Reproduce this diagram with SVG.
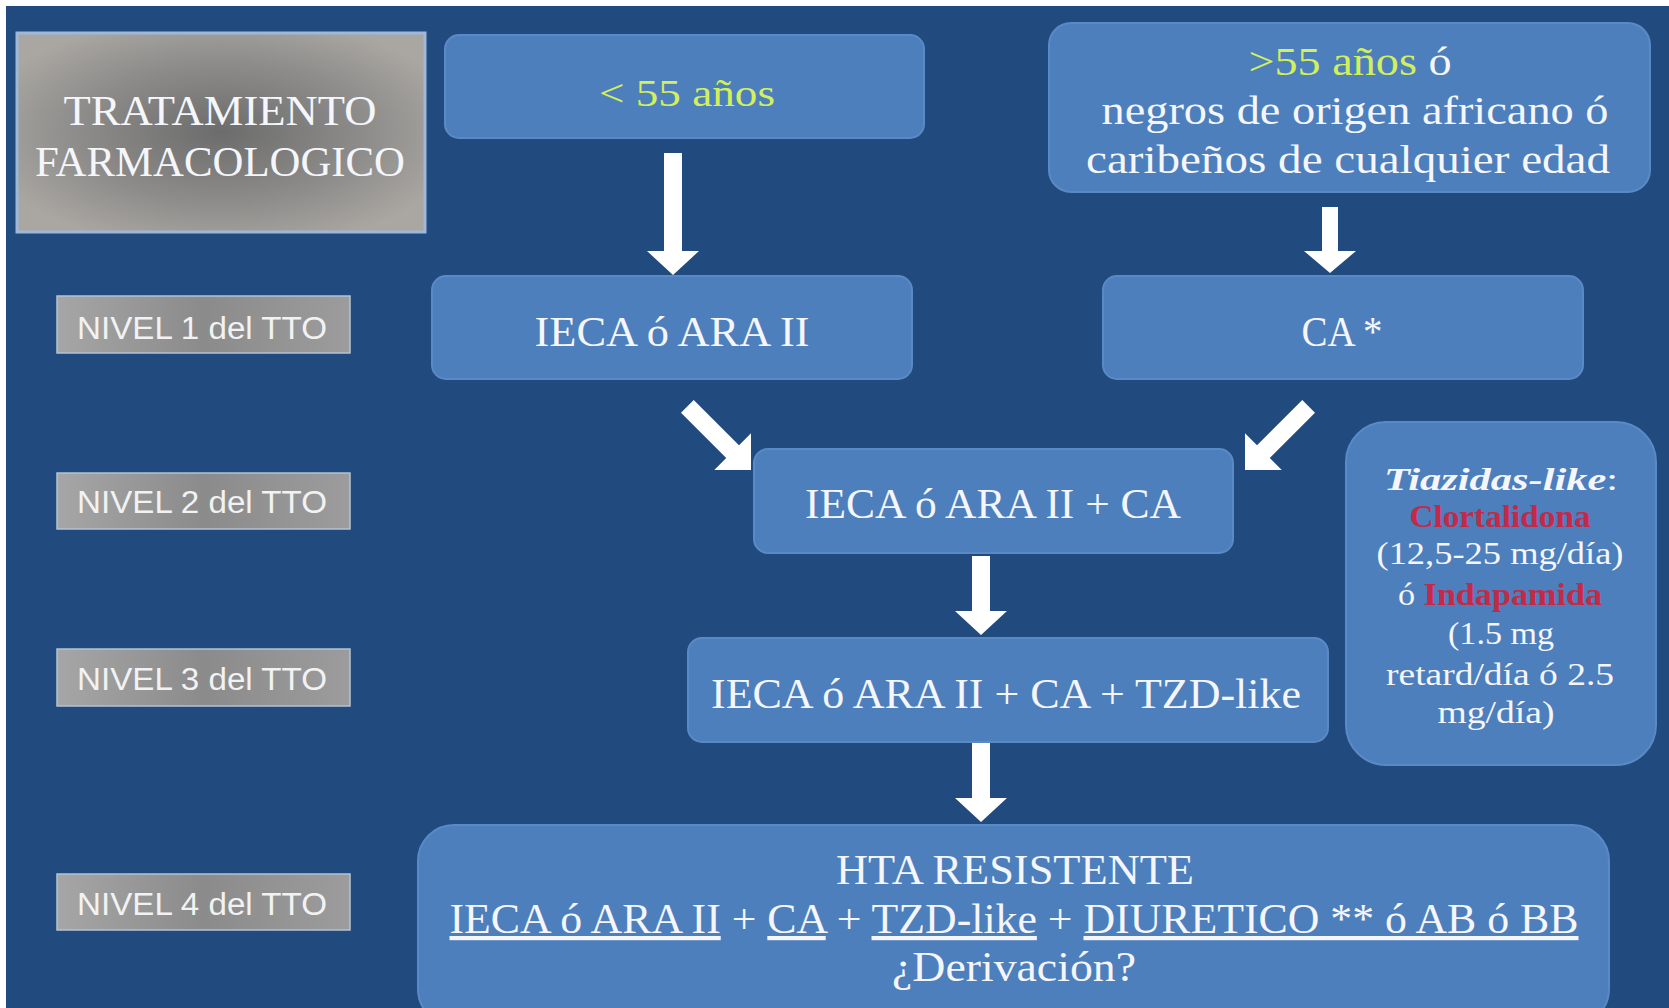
<svg xmlns="http://www.w3.org/2000/svg" width="1669" height="1008" viewBox="0 0 1669 1008">
  <defs>
    <radialGradient id="titleGrad" cx="0.5" cy="0.5" r="0.6">
      <stop offset="0" stop-color="#6c6c6c"/>
      <stop offset="0.6" stop-color="#8e8d8b"/>
      <stop offset="1" stop-color="#aaa7a2"/>
    </radialGradient>
    <linearGradient id="levelGrad" x1="0" y1="0" x2="1" y2="0">
      <stop offset="0" stop-color="#a6a6a6"/>
      <stop offset="0.5" stop-color="#8b8b8b"/>
      <stop offset="1" stop-color="#9c9c9c"/>
    </linearGradient>
    <style>
      .serif { font-family: "Liberation Serif", "Times New Roman", serif; fill: #f4f6fb; text-anchor: middle; }
      .sans { font-family: "Liberation Sans", Arial, sans-serif; fill: #f2f2f2; text-anchor: middle; font-size: 31px; }
      .box { fill: #4e7fbd; stroke: #5a8ac6; stroke-width: 2; }
      .level { fill: url(#levelGrad); stroke: #b4c2d4; stroke-width: 1.5; }
      .arrow { fill: #ffffff; }
      .age { fill: #d2f05c; }
      .drug { fill: #c42a48; font-weight: bold; }
      .ul { text-decoration: underline; }
    </style>
  </defs>

  <!-- page edge and slide background -->
  <rect x="0" y="0" width="1669" height="1008" fill="#ffffff"/>
  <rect x="6" y="6" width="1663" height="1002" fill="#214a7e"/>

  <!-- title block -->
  <g id="title">
    <rect x="17" y="33" width="408" height="199" fill="url(#titleGrad)" stroke="#9fb8d8" stroke-width="3"/>
    <text class="serif" x="220" y="125" font-size="42" textLength="313" lengthAdjust="spacingAndGlyphs">TRATAMIENTO</text>
    <text class="serif" x="220" y="176" font-size="42" textLength="370" lengthAdjust="spacingAndGlyphs">FARMACOLOGICO</text>
  </g>

  <!-- level labels -->
  <g id="nivel1">
    <rect class="level" x="57" y="296" width="293" height="57"/>
    <text class="sans" x="202" y="339" textLength="250" lengthAdjust="spacingAndGlyphs">NIVEL 1 del TTO</text>
  </g>
  <g id="nivel2">
    <rect class="level" x="57" y="473" width="293" height="56"/>
    <text class="sans" x="202" y="513" textLength="250" lengthAdjust="spacingAndGlyphs">NIVEL 2 del TTO</text>
  </g>
  <g id="nivel3">
    <rect class="level" x="57" y="649" width="293" height="57"/>
    <text class="sans" x="202" y="690" textLength="250" lengthAdjust="spacingAndGlyphs">NIVEL 3 del TTO</text>
  </g>
  <g id="nivel4">
    <rect class="level" x="57" y="874" width="293" height="56"/>
    <text class="sans" x="202" y="915" textLength="250" lengthAdjust="spacingAndGlyphs">NIVEL 4 del TTO</text>
  </g>

  <!-- entry groups -->
  <g id="menor55">
    <rect class="box" x="445" y="35" width="479" height="103" rx="14"/>
    <text class="serif age" x="687" y="106" font-size="38" textLength="176" lengthAdjust="spacingAndGlyphs">&lt; 55 años</text>
  </g>
  <g id="mayor55">
    <rect class="box" x="1049" y="23" width="601" height="169" rx="22"/>
    <text class="serif" x="1350" y="75" font-size="40" textLength="203" lengthAdjust="spacingAndGlyphs"><tspan class="age">&gt;55 años</tspan> ó</text>
    <text class="serif" x="1355" y="124" font-size="40" textLength="507" lengthAdjust="spacingAndGlyphs">negros de origen africano ó</text>
    <text class="serif" x="1348" y="173" font-size="40" textLength="524" lengthAdjust="spacingAndGlyphs">caribeños de cualquier edad</text>
  </g>

  <!-- level 1 -->
  <g id="ieca">
    <rect class="box" x="432" y="276" width="480" height="103" rx="14"/>
    <text class="serif" x="672" y="346" font-size="42" textLength="275" lengthAdjust="spacingAndGlyphs">IECA ó ARA II</text>
  </g>
  <g id="ca">
    <rect class="box" x="1103" y="276" width="480" height="103" rx="14"/>
    <text class="serif" x="1342" y="346" font-size="42" textLength="81" lengthAdjust="spacingAndGlyphs">CA *</text>
  </g>

  <!-- level 2 -->
  <g id="ieca-ca">
    <rect class="box" x="754" y="449" width="479" height="104" rx="14"/>
    <text class="serif" x="993" y="518" font-size="42" textLength="376" lengthAdjust="spacingAndGlyphs">IECA ó ARA II + CA</text>
  </g>

  <!-- level 3 -->
  <g id="ieca-ca-tzd">
    <rect class="box" x="688" y="638" width="640" height="104" rx="14"/>
    <text class="serif" x="1006" y="708" font-size="42" textLength="590" lengthAdjust="spacingAndGlyphs">IECA ó ARA II + CA + TZD-like</text>
  </g>

  <!-- thiazide-like note -->
  <g id="tiazidas">
    <rect class="box" x="1346" y="422" width="310" height="343" rx="40"/>
    <text class="serif" x="1501" y="490" font-size="32" textLength="234" lengthAdjust="spacingAndGlyphs"><tspan font-weight="bold" font-style="italic">Tiazidas-like</tspan>:</text>
    <text class="serif drug" x="1500" y="527" font-size="32" textLength="181" lengthAdjust="spacingAndGlyphs">Clortalidona</text>
    <text class="serif" x="1500" y="564" font-size="32" textLength="247" lengthAdjust="spacingAndGlyphs">(12,5-25 mg/día)</text>
    <text class="serif" x="1500" y="605" font-size="32" textLength="204" lengthAdjust="spacingAndGlyphs">ó <tspan class="drug">Indapamida</tspan></text>
    <text class="serif" x="1501" y="644" font-size="32" textLength="106" lengthAdjust="spacingAndGlyphs">(1.5 mg</text>
    <text class="serif" x="1500" y="685" font-size="32" textLength="228" lengthAdjust="spacingAndGlyphs">retard/día ó 2.5</text>
    <text class="serif" x="1496" y="723" font-size="32" textLength="117" lengthAdjust="spacingAndGlyphs">mg/día)</text>
  </g>

  <!-- level 4 -->
  <g id="resistente">
    <rect class="box" x="418" y="825" width="1191" height="200" rx="36"/>
    <text class="serif" x="1015" y="884" font-size="42" textLength="358" lengthAdjust="spacingAndGlyphs">HTA RESISTENTE</text>
    <text class="serif" x="1014" y="933" font-size="42" textLength="1129" lengthAdjust="spacingAndGlyphs"><tspan class="ul">IECA ó ARA II</tspan> + <tspan class="ul">CA</tspan> + <tspan class="ul">TZD-like</tspan> + <tspan class="ul">DIURETICO **  ó AB ó BB</tspan></text>
    <text class="serif" x="1014" y="981" font-size="42" textLength="244" lengthAdjust="spacingAndGlyphs">¿Derivación?</text>
  </g>

  <!-- connectors: block arrows drawn pointing down with the tip at the origin -->
  <g id="connectors">
    <path class="arrow" transform="translate(673,275)" d="M-9,-122 H9 V-24 H26 L0,0 L-26,-24 H-9 Z"/>
    <path class="arrow" transform="translate(1330,273)" d="M-8,-66 H8 V-22 H26 L0,0 L-26,-22 H-8 Z"/>
    <path class="arrow" transform="translate(751,470) rotate(-45)" d="M-9,-90 H9 V-26 H26 L0,0 L-26,-26 H-9 Z"/>
    <path class="arrow" transform="translate(1245,470) rotate(45)" d="M-9,-90 H9 V-26 H26 L0,0 L-26,-26 H-9 Z"/>
    <path class="arrow" transform="translate(981,635)" d="M-9,-79 H9 V-24 H26 L0,0 L-26,-24 H-9 Z"/>
    <path class="arrow" transform="translate(981,822)" d="M-9,-79 H9 V-24 H26 L0,0 L-26,-24 H-9 Z"/>
  </g>
</svg>
